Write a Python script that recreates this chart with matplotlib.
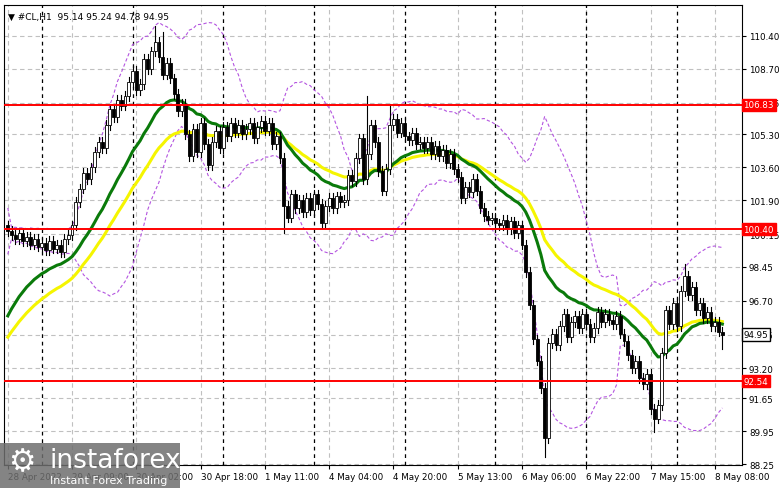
import matplotlib
matplotlib.use("Agg")
import matplotlib.pyplot as plt
from matplotlib.patches import Rectangle
import numpy as np
import pandas as pd

closes = [100.3,100.1,99.9,100.2,99.8,100.0,99.6,99.9,99.5,99.7,
99.3,99.8,99.4,99.6,99.2,99.9,100.1,100.6,101.8,102.5,
103.3,103.0,103.6,104.4,104.9,104.6,105.8,106.6,106.2,107.1,
106.8,107.3,108.0,108.6,107.6,107.9,109.2,108.7,109.6,110.1,
109.3,108.4,109.0,108.2,107.4,106.5,106.9,105.3,104.2,105.6,
104.4,105.9,104.8,103.7,104.9,105.5,104.6,105.7,105.2,105.9,
105.4,105.8,105.3,105.6,105.9,105.1,105.7,106.0,105.5,105.9,
104.8,105.2,104.1,101.6,101.0,102.2,101.5,101.9,101.3,102.0,
101.4,102.2,101.7,100.7,101.6,102.0,101.5,102.1,101.8,101.9,
103.2,102.9,104.1,105.1,103.0,104.3,105.8,104.9,103.4,102.4,
103.5,105.8,106.1,105.4,105.9,105.2,105.0,105.4,104.8,104.9,
104.6,104.9,104.3,104.7,104.2,104.5,103.8,104.3,103.5,103.1,
102.0,102.6,102.3,103.0,102.4,101.5,101.1,100.9,101.0,100.7,
100.6,100.9,100.4,100.8,100.2,100.6,99.6,98.2,96.5,94.7,
93.6,92.2,89.6,94.5,95.0,94.4,95.4,96.0,94.8,95.6,
95.9,95.3,96.0,95.5,94.8,95.3,96.1,95.6,96.0,95.7,
95.5,95.9,95.0,94.6,93.9,93.2,93.6,92.7,92.4,92.9,
91.1,90.6,91.3,94.0,96.2,95.5,96.6,95.4,97.2,98.0,
97.0,97.4,96.2,96.6,95.8,96.1,95.4,95.6,95.1,94.95]
first_open = 100.6
spike_highs = {39: 110.9, 41: 110.6, 95: 107.3, 101: 106.9, 179: 98.6}
spike_lows = {142: 88.6, 73: 100.2, 171: 89.9, 189: 94.2}

hlines = [106.83, 100.40, 92.54]
yticks = [110.40,108.70,106.95,105.30,103.60,101.90,100.15,98.45,96.70,94.95,93.20,91.65,89.95,88.25]
xlabels = ["28 Apr 2022","29 Apr 09:00","30 Apr 02:00","30 Apr 18:00","1 May 11:00","4 May 04:00",
           "4 May 20:00","5 May 13:00","6 May 06:00","6 May 22:00","7 May 15:00","8 May 08:00"]
day_seps = [9, 33, 57, 81, 105, 129, 153, 177]

c = np.array(closes)
o = np.concatenate([[first_open], c[:-1]])
n = len(c)

fig = plt.figure(figsize=(7.81, 4.89), dpi=100)
ax = fig.add_axes([4/781, 23/489, 738/781, 460/489])
ax.set_xlim(-1, 194.2)
ax.set_ylim(88.20, 112.0)

for y in yticks:
    ax.axhline(y, color="#c0c0c0", ls=(0, (4, 3)), lw=0.8, zorder=0)
xt = [17*i for i in range(len(xlabels))]
for x in xt:
    ax.axvline(x, color="#c0c0c0", ls=(0, (4, 3)), lw=0.8, zorder=0)
for x in day_seps:
    ax.axvline(x, color="black", ls=(0, (3, 3)), lw=0.9, zorder=0)

s = pd.Series(c)
mid = s.rolling(20, min_periods=1).mean()
sd = s.rolling(20, min_periods=2).std().fillna(0.6)
ax.plot(mid + 2*sd, color="#b455e0", ls=(0, (3, 2)), lw=0.8, zorder=1)
ax.plot(mid - 2*sd, color="#b455e0", ls=(0, (3, 2)), lw=0.8, zorder=1)

def ema(vals, span, seed):
    a = 2/(span+1); out = []; v = seed
    for x in vals:
        v = v + a*(x - v); out.append(v)
    return out
ax.plot(ema(c, 36, 94.5), color="#f5f500", lw=2.2, zorder=2)
ax.plot(ema(c, 22, 95.5), color="#0a7a0a", lw=2.2, zorder=2)

for i in range(n):
    hi = max(o[i], c[i]) + 0.25
    lo = min(o[i], c[i]) - 0.25
    hi = spike_highs.get(i, hi); lo = spike_lows.get(i, lo)
    ax.plot([i, i], [lo, hi], color="black", lw=0.8, zorder=3)
    bull = c[i] >= o[i]
    h = abs(c[i]-o[i]) or 0.04
    ax.add_patch(Rectangle((i-0.38, min(o[i], c[i])), 0.76, h,
                           facecolor="white" if bull else "black", edgecolor="black", lw=0.6, zorder=4))

for y in hlines:
    ax.axhline(y, color="#ff0000", lw=1.4, zorder=5)

ax.yaxis.tick_right()
ax.set_yticks(yticks)
ax.set_yticklabels([f"{v:.2f}" for v in yticks], fontsize=6.3)
ax.set_xticks(xt)
ax.set_xticklabels(xlabels, fontsize=6.3, ha="left")
ax.tick_params(length=3, pad=2)
for y in hlines:
    ax.annotate(f"{y:.2f}", xy=(1, y), xycoords=("axes fraction", "data"), xytext=(1, 0),
                textcoords="offset points", va="center", fontsize=6.3, color="white", zorder=20,
                bbox=dict(boxstyle="square,pad=0.2", fc="#ff0000", ec="#ff0000"))
ax.annotate("94.95", xy=(1, 94.95), xycoords=("axes fraction", "data"), xytext=(1, 0),
            textcoords="offset points", va="center", fontsize=6.3, color="black", zorder=20,
            bbox=dict(boxstyle="square,pad=0.2", fc="white", ec="black"))

ax.text(0.005, 0.985, "▼ #CL,H1  95.14 95.24 94.78 94.95", transform=ax.transAxes,
        fontsize=6.5, va="top", ha="left")

fig.patches.append(Rectangle((0, 0), 180/781, 45/489, transform=fig.transFigure,
                             facecolor="#6e6e6e", alpha=0.85, zorder=10))
fig.text(50/781, 28/489, "instaforex", color="white", fontsize=19, va="center", zorder=11)
fig.text(50/781, 8/489, "Instant Forex Trading", color="white", fontsize=8, va="center", zorder=11)
fig.text(8/781, 26/489, "⚙", color="white", fontsize=22, va="center", zorder=11)

fig.savefig("out.png", dpi=100)
